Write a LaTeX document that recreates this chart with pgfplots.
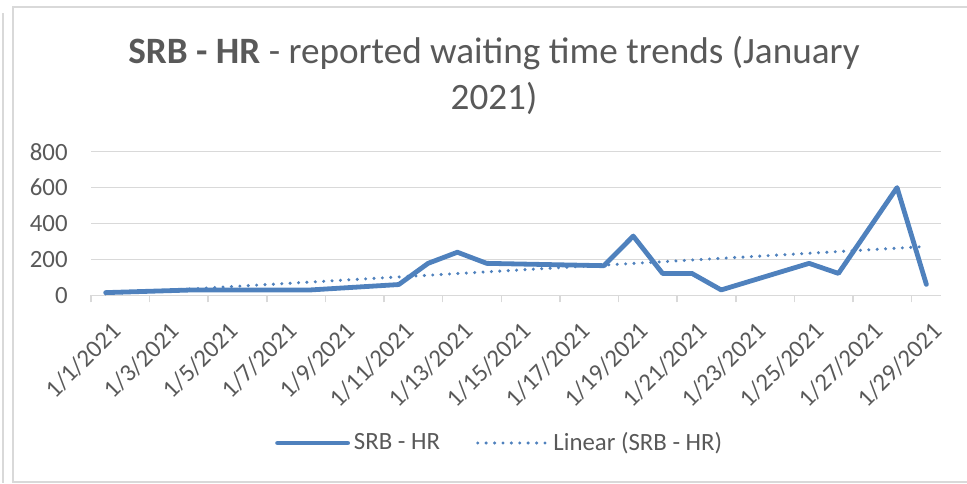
\documentclass[border=0pt]{standalone}
\usepackage{fontspec}
\setmainfont{Carlito}
\usepackage{pgfplots}
\pgfplotsset{compat=1.18}
\definecolor{srbblue}{HTML}{4F81BD}
\definecolor{txtgray}{HTML}{595959}
\definecolor{gridgray}{HTML}{D9D9D9}

% day index: 0 = 1/1/2021
\pgfplotstableread{
day val
0   15
3   30
7   30
10  60
11  178
12  240
13  178
17  165
18  330
19  122
20  122
21  30
24  178
25  122
27  600
28  61
}\srbdata

\begin{document}
\begin{tikzpicture}
\useasboundingbox (-45.5pt,-93.85pt) rectangle (438pt,147.65pt);
% frame of the chart area
\draw[gridgray, line width=0.75pt] (-44pt,141pt) -- (-44pt,-94pt);
\draw[gridgray, line width=0.75pt] (445pt,144.15pt) -- (-39pt,144.15pt) -- (-39pt,-93.35pt) -- (445pt,-93.35pt);
\begin{axis}[
    at={(0,0)}, anchor=south west,
    width=425pt, height=71.8pt, scale only axis,
    xmin=-0.5, xmax=28.5, ymin=0, ymax=800,
    axis line style={draw=none},
    ytick={0,200,400,600,800},
    ymajorgrids=true,
    grid style={gridgray, line width=0.75pt},
    y tick style={draw=none},
    xtick pos=bottom,
    xtick={-0.5,1.5,3.5,5.5,7.5,9.5,11.5,13.5,15.5,17.5,19.5,21.5,23.5,25.5,27.5},
    xticklabels={1/1/2021,1/3/2021,1/5/2021,1/7/2021,1/9/2021,1/11/2021,1/13/2021,
      1/15/2021,1/17/2021,1/19/2021,1/21/2021,1/23/2021,1/25/2021,1/27/2021,1/29/2021},
    tick align=outside,
    major tick length=3.5pt,
    x tick style={gridgray, line width=0.75pt},
    xticklabel style={xshift=9.5pt, yshift=-8.85pt, rotate=45, anchor=north east, inner sep=0pt},
    yticklabel style={anchor=east, inner sep=0pt, xshift=-8pt},
    tick label style={font=\fontsize{12.4}{15}\selectfont, text=txtgray},
    /pgf/number format/assume math mode=true,
    clip=false,
    legend columns=2,
    legend style={at={(0.482,-1.0285)}, anchor=center, draw=none, fill=none,
      font=\fontsize{12.4}{15}\selectfont, text=txtgray,
      /tikz/every even column/.append style={column sep=16pt}},
    legend image code/.code={\draw[#1] (0pt,0pt) -- (35pt,0pt);},
]
\addplot[srbblue, line width=2.4pt, line join=round, line cap=round] table[x=day, y=val] {\srbdata};
\addlegendentry{SRB - HR}
\addplot[srbblue, line width=1.7pt, line cap=round, dash pattern=on 0pt off 4.2pt] coordinates {(0,8) (28,272)};
\addlegendentry{Linear (SRB - HR)}
\end{axis}
\node[anchor=north, inner sep=0pt, align=center, text=txtgray,
      font=\fontsize{18.6}{23}\selectfont] at (201.5pt,129.65pt)
  {\textbf{SRB - HR} - reported waiting time trends (January\\2021)};
\end{tikzpicture}
\end{document}
